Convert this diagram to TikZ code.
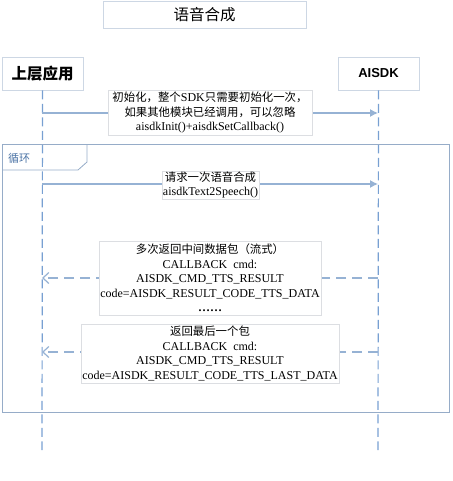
\documentclass[tikz,border=0pt]{standalone}
\usepackage{fontspec}
\setmainfont{Liberation Serif}
\newfontfamily\cjk{Noto Sans CJK SC}
\newfontfamily\cjksm[Scale=0.95]{Noto Sans CJK SC}
\usetikzlibrary{arrows.meta}
\definecolor{lifeblue}{RGB}{120,160,210}
\definecolor{arrowblue}{RGB}{150,178,212}
\definecolor{framecol}{RGB}{150,172,200}
\definecolor{boxgray}{RGB}{220,222,226}
\definecolor{partgray}{RGB}{205,215,228}
\definecolor{tabtext}{RGB}{75,115,165}
\tikzset{
  partbox/.style={draw=partgray, line width=0.8pt, fill=white, minimum width=81pt, minimum height=33pt, inner sep=0pt},
  lifeline/.style={draw=lifeblue, line width=1.2pt, dash pattern=on 9pt off 4.5pt},
  msgline/.style={draw=arrowblue, line width=1.2pt, -{Latex[length=8pt,width=8pt]}},
  retline/.style={draw=arrowblue, line width=1.2pt, dash pattern=on 10pt off 6pt, -{Straight Barb[length=6pt,width=11pt]}},
  labelbox/.style={draw=boxgray, line width=0.6pt, fill=white, align=center, inner sep=0.5pt, font=\fontsize{12}{14.5}\selectfont},
}
\begin{document}
\begin{tikzpicture}[x=1pt,y=-1pt]
\useasboundingbox (0,0) rectangle (452,481);
% title
\node[draw=partgray, line width=0.8pt, minimum width=203pt, minimum height=27pt, inner sep=0pt] (title) at (204.5,14.5) {\cjk\fontsize{15.5}{17}\selectfont 语音合成};
% participants
\node[partbox] (app) at (42.5,73.5) {\cjk\bfseries\fontsize{15.5}{17}\selectfont 上层应用};
\node[partbox] (sdk) at (378.5,73.5) {\fontspec{Liberation Sans}\bfseries\fontsize{13}{15}\selectfont AISDK};
% lifeline ends
\coordinate (append) at (42,450);
\coordinate (sdkend) at (378,450);
\draw[lifeline] (app.south) -- (append);
\draw[lifeline] (sdk.south) -- (sdkend);
% loop frame
\draw[draw=framecol, line width=1pt] (2,145) rectangle (449,412);
\draw[draw=framecol, line width=0.8pt] (2,170) -- (78,170) -- (87,162) -- (87,145);
\node[anchor=west, inner sep=0pt, text=tabtext] (looplbl) at (8,158) {\cjk\fontsize{11}{12}\selectfont 循环};
% message 1
\coordinate (m1a) at (42,113);
\coordinate (m1b) at (378,113);
\draw[msgline] (m1a) -- (m1b);
\node[labelbox, minimum width=204pt, minimum height=45pt] (lab1) at (210,112.5)
  {{\cjksm 初始化，整个}SDK{\cjksm 只需要初始化一次，}\\ {\cjksm 如果其他模块已经调用，可以忽略}\\ aisdkInit()+aisdkSetCallback()};
% message 2
\coordinate (m2a) at (42,184);
\coordinate (m2b) at (378,184);
\draw[msgline] (m2a) -- (m2b);
\node[labelbox, minimum width=97pt, minimum height=28pt] (lab2) at (210.5,185)
  {{\cjksm 请求一次语音合成}\\ aisdkText2Speech()};
% return 1
\coordinate (r1a) at (378,278);
\coordinate (r1b) at (42,278);
\draw[retline] (r1a) -- (r1b);
\node[labelbox, minimum width=222pt, minimum height=74pt] (lab3) at (210,278)
  {{\cjksm 多次返回中间数据包（流式）}\\ CALLBACK\ \ cmd:\\ AISDK\_CMD\_TTS\_RESULT\\ code=AISDK\_RESULT\_CODE\_TTS\_DATA\\ \textbf{……}};
% return 2
\coordinate (r2a) at (378,352);
\coordinate (r2b) at (42,352);
\draw[retline] (r2a) -- (r2b);
\node[labelbox, minimum width=258pt, minimum height=59pt] (lab4) at (210,353.5)
  {{\cjksm 返回最后一个包}\\ CALLBACK\ \ cmd:\\ AISDK\_CMD\_TTS\_RESULT\\ code=AISDK\_RESULT\_CODE\_TTS\_LAST\_DATA};
\end{tikzpicture}
\end{document}
